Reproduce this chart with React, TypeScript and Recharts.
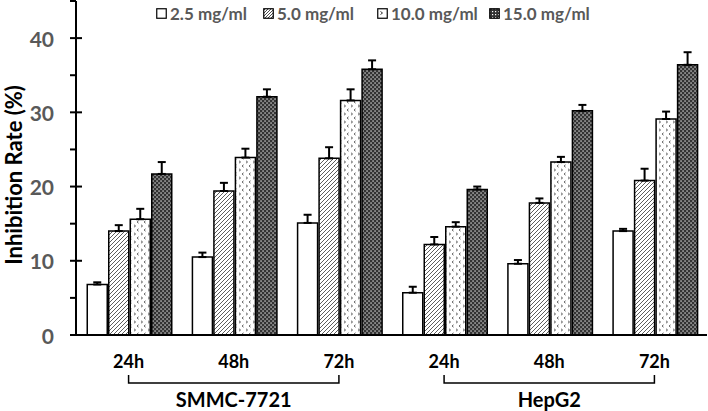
import { BarChart, Bar, XAxis, YAxis, ErrorBar } from "recharts";

const times = ["24h", "48h", "72h", "24h", "48h", "72h"];
const cellLines = ["SMMC-7721", "SMMC-7721", "SMMC-7721", "HepG2", "HepG2", "HepG2"];

const dose25 = [6.8, 10.5, 15.1, 5.7, 9.6, 14.0];
const dose50 = [14.0, 19.4, 23.8, 12.2, 17.8, 20.8];
const dose100 = [15.6, 23.9, 31.6, 14.6, 23.3, 29.1];
const dose150 = [21.7, 32.1, 35.8, 19.6, 30.2, 36.4];

const err25 = [0.3, 0.6, 1.1, 0.8, 0.5, 0.3];
const err50 = [0.8, 1.1, 1.5, 1.0, 0.6, 1.6];
const err100 = [1.4, 1.2, 1.5, 0.6, 0.7, 1.0];
const err150 = [1.6, 1.0, 1.2, 0.4, 0.8, 1.7];

const yTicks = [0, 5, 10, 15, 20, 25, 30, 35, 40, 45];

const series = [
  { key: "d25", name: "2.5 mg/ml", fill: "#ffffff" },
  { key: "d50", name: "5.0 mg/ml", fill: "url(#hatch)" },
  { key: "d100", name: "10.0 mg/ml", fill: "url(#chev)" },
  { key: "d150", name: "15.0 mg/ml", fill: "url(#dark)" },
];

const data = times.map((t, i) => ({
  time: t,
  cell: cellLines[i],
  d25: dose25[i],
  d50: dose50[i],
  d100: dose100[i],
  d150: dose150[i],
  e25: [0, err25[i]],
  e50: [0, err50[i]],
  e100: [0, err100[i]],
  e150: [0, err150[i]],
}));

const FONT = "Lato, 'Open Sans', sans-serif";

function YTick(props: any) {
  const { x, y, payload } = props;
  const v = payload.value;
  const major = v % 10 === 0;
  return (
    <g>
      <line x1={x - 6} x2={major ? x + 6 : x} y1={y} y2={y} stroke="#000" strokeWidth={2} />
      {major && (
        <text
          x={x - 22}
          y={y}
          textAnchor="end"
          dominantBaseline="central"
          fill="#595959"
          fontSize={21}
          fontWeight="bold"
          fontFamily={FONT}
        >
          {v}
        </text>
      )}
    </g>
  );
}

function XTick(props: any) {
  const { x, y, payload, index, width, visibleTicksCount } = props;
  const band = width && visibleTicksCount ? width / visibleTicksCount : 105;
  const mid = index % 3 === 1;
  return (
    <g>
      <text
        x={x}
        y={y + 33}
        textAnchor="middle"
        fill="#000"
        fontSize={18}
        fontWeight="bold"
        fontFamily={FONT}
      >
        {payload.value}
      </text>
      {mid && (
        <g>
          <path
            d={`M${x - band},${y + 40} V${y + 48} H${x + band} V${y + 40}`}
            fill="none"
            stroke="#000"
            strokeWidth={1.5}
          />
          <text
            x={x}
            y={y + 72}
            textAnchor="middle"
            fill="#000"
            fontSize={20}
            fontWeight="bold"
            fontFamily={FONT}
          >
            {cellLines[index]}
          </text>
        </g>
      )}
    </g>
  );
}

function LegendBox() {
  return (
    <div style={{ display: "flex", fontFamily: FONT }}>
      {series.map((s, i) => (
        <div
          key={s.key}
          style={{
            display: "flex",
            alignItems: "center",
            width: [107, 114, 112, 110][i],
            color: "#595959",
            fontWeight: "bold",
            fontSize: 17,
            whiteSpace: "nowrap",
          }}
        >
          <svg width={11} height={11} style={{ marginRight: 3 }}>
            <defs>
              <pattern id={`lh${i}`} width="3" height="3" patternUnits="userSpaceOnUse">
                <rect width="3" height="3" fill="#fff" />
                <path d="M-1,1 l2,-2 M0,3 l3,-3 M2,4 l2,-2" stroke="#000" strokeWidth={0.7} />
              </pattern>
              <pattern id={`ld${i}`} width="3" height="3" patternUnits="userSpaceOnUse">
                <rect width="3" height="3" fill="#333" />
                <rect x="0" y="0" width="1.2" height="1.2" fill="#fff" />
              </pattern>
            </defs>
            <rect
              x={0.75}
              y={0.75}
              width={9.5}
              height={9.5}
              fill={i === 1 ? `url(#lh${i})` : i === 3 ? `url(#ld${i})` : "#fff"}
              stroke="#000"
              strokeWidth={1.2}
            />
            {i === 2 && <path d="M3.5,3.5 l2,1.5 l-2,1.5" fill="none" stroke="#000" strokeWidth={0.8} />}
          </svg>
          <span>{s.name}</span>
        </div>
      ))}
    </div>
  );
}

export default function App() {
  return (
    <div style={{ position: "absolute", left: 0, top: 0, width: 708, height: 411, background: "#fff" }}>
      <BarChart
        width={708}
        height={411}
        data={data}
        margin={{ top: 1, right: 1, bottom: 46, left: 0 }}
        barCategoryGap="10.7%"
        barGap={1.5}
      >
        <defs>
          <pattern id="hatch" width="4" height="4" patternUnits="userSpaceOnUse">
            <rect width="4" height="4" fill="#fff" />
            <path d="M-1,1 l2,-2 M0,4 l4,-4 M3,5 l2,-2" stroke="#333" strokeWidth={0.8} />
          </pattern>
          <pattern id="chev" width="7" height="8" patternUnits="userSpaceOnUse">
            <rect width="7" height="8" fill="#fff" />
            <path d="M1,0.8 l1.6,1.2 l-1.6,1.2" fill="none" stroke="#555" strokeWidth={0.9} />
            <path d="M5.6,4.8 l-1.6,1.2 l1.6,1.2" fill="none" stroke="#555" strokeWidth={0.9} />
          </pattern>
          <pattern id="dark" width="4" height="4" patternUnits="userSpaceOnUse">
            <rect width="4" height="4" fill="#333" />
            <rect x="0.4" y="0.4" width="1.3" height="1.3" fill="#e0e0e0" />
            <rect x="2.4" y="2.4" width="1.3" height="1.3" fill="#e0e0e0" />
          </pattern>
        </defs>
        <XAxis
          dataKey="time"
          height={30}
          axisLine={{ stroke: "#000", strokeWidth: 2 }}
          tickLine={false}
          tickSize={0}
          tickMargin={0}
          interval={0}
          tick={<XTick />}
        />
        <YAxis
          width={76}
          domain={[0, 45]}
          ticks={yTicks}
          interval={0}
          axisLine={{ stroke: "#000", strokeWidth: 2 }}
          tickLine={false}
          tickSize={0}
          tickMargin={0}
          tick={<YTick />}
          label={{
            content: () => (
              <text
                x={13}
                y={175}
                transform="rotate(-90 13 175)"
                textAnchor="middle"
                dominantBaseline="central"
                fill="#000"
                fontSize={22}
                fontWeight="bold"
                fontFamily={FONT}
              >
                Inhibition Rate (%)
              </text>
            ),
          }}
        />
        {series.map((s) => (
          <Bar
            key={s.key}
            dataKey={s.key}
            name={s.name}
            fill={s.fill}
            stroke="#000"
            strokeWidth={1.5}
            isAnimationActive={false}
          >
            <ErrorBar
              dataKey={"e" + s.key.slice(1)}
              width={4}
              stroke="#000"
              strokeWidth={2}
              direction="y"
            />
          </Bar>
        ))}
      </BarChart>
      <div style={{ position: "absolute", top: 3, left: 156 }}>
        <LegendBox />
      </div>
    </div>
  );
}
